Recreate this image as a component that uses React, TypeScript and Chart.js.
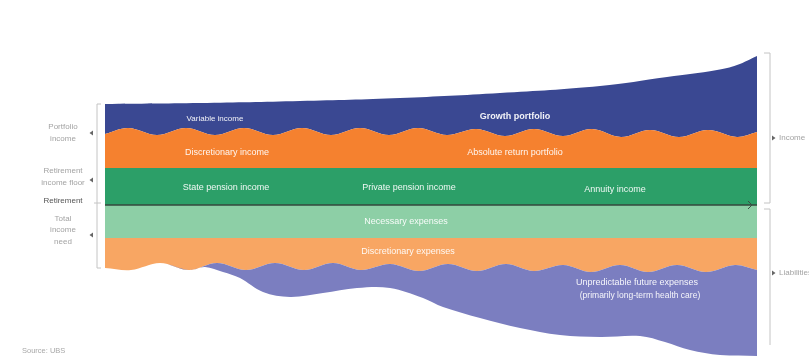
import { useEffect, useRef } from "react";
import { Chart, registerables } from "chart.js";

Chart.register(...registerables);

// x: time units along the plan (0 = start, 652 = end); y: level relative to retirement line (0)
const navyTopT = [0, 95, 195, 295, 395, 495, 562, 612, 632, 652];
const navyTopV = [101, 102, 104, 107, 112, 119, 128, 135, 140, 149];

const portfolioWaveT = [0, 23, 52, 81, 110, 139, 168, 197, 226, 255, 284, 313, 342, 371, 400, 429, 458, 487, 516, 545, 574, 603, 632, 652];
const portfolioWaveV = [71, 77, 70, 77, 70, 77, 70, 77, 70, 77, 70, 77, 70, 76, 69, 76, 69, 76, 68, 75, 68, 75, 68, 73];

const floorTopT = [0, 652];
const floorTopV = [37, 37];

const retirementT = [0, 652];
const retirementV = [0, 0];

const essentialBottomT = [0, 652];
const essentialBottomV = [-33, -33];

const expenseWaveT = [0, 26, 55, 84, 112, 141, 170, 199, 228, 256, 285, 314, 343, 372, 401, 429, 458, 486, 515, 543, 572, 601, 630, 652];
const expenseWaveV = [-63, -65, -58, -65, -58, -65, -58, -65, -58, -65, -59, -66, -59, -66, -59, -66, -60, -67, -60, -67, -60, -67, -60, -65];

const unpredictableBottomT = [0, 26, 55, 84, 100, 118, 135, 158, 185, 218, 252, 285, 318, 338, 375, 415, 455, 495, 535, 560, 585, 615, 652];
const unpredictableBottomV = [-63, -65, -58, -65, -62, -67, -73, -87, -92, -88, -83, -83, -93, -102, -113, -123, -130, -132, -131, -137, -145, -150, -151];

const bandLabels = [
  { text: "Variable income", t: 110, v: 86, size: 8, bold: false },
  { text: "Growth portfolio", t: 410, v: 88, size: 9, bold: true },
  { text: "Discretionary income", t: 122, v: 52, size: 9, bold: false },
  { text: "Absolute return portfolio", t: 410, v: 52, size: 9, bold: false },
  { text: "State pension income", t: 121, v: 17, size: 9, bold: false },
  { text: "Private pension income", t: 304, v: 17, size: 9, bold: false },
  { text: "Annuity income", t: 510, v: 15, size: 9, bold: false },
  { text: "Necessary expenses", t: 301, v: -17, size: 9, bold: false },
  { text: "Discretionary expenses", t: 303, v: -47, size: 9, bold: false },
  { text: "Unpredictable future expenses", t: 532, v: -78, size: 9, bold: false },
  { text: "(primarily long-term health care)", t: 535, v: -91, size: 8.5, bold: false },
];

const leftGroups = [
  { lines: ["Portfolio", "income"], v: 72, arrowV: 72 },
  { lines: ["Retirement", "income floor"], v: 28, arrowV: 25 },
  { lines: ["Total", "income", "need"], v: -25, arrowV: -30 },
];
const retirementLabel = "Retirement";
const rightLabels = [
  { text: "Income", v: 67 },
  { text: "Liabilities", v: -68 },
];
const sourceText = "Source: UBS";

const NAVY = "#3a4892";
const ORANGE = "#f5812f";
const GREEN = "#2c9f68";
const LIGHT_GREEN = "#8dcfa6";
const LIGHT_ORANGE = "#f8a663";
const PURPLE = "#7b7ec0";

const pts = (ts: number[], vs: number[]) => ts.map((x, i) => ({ x, y: vs[i] }));
const FONT = '"Liberation Sans", Arial, sans-serif';

function arrow(ctx: CanvasRenderingContext2D, x: number, y: number, dir: number, size = 3.5) {
  ctx.beginPath();
  ctx.moveTo(x + dir * size, y);
  ctx.lineTo(x, y - size * 0.7);
  ctx.lineTo(x, y + size * 0.7);
  ctx.closePath();
  ctx.fill();
}

const decorPlugin = {
  id: "decor",
  afterDatasetsDraw(chart: any) {
    const ctx: CanvasRenderingContext2D = chart.ctx;
    const xs = chart.scales.x;
    const ys = chart.scales.y;
    const area = chart.chartArea;
    ctx.save();
    // band labels
    ctx.textAlign = "center";
    ctx.textBaseline = "middle";
    ctx.fillStyle = "rgba(255,255,255,0.93)";
    for (const l of bandLabels) {
      ctx.font = `${l.bold ? "bold " : ""}${l.size}px ${FONT}`;
      ctx.fillText(l.text, xs.getPixelForValue(l.t), ys.getPixelForValue(l.v));
    }
    // retirement arrow at end of line
    ctx.strokeStyle = "#3b4d44";
    ctx.lineWidth = 1;
    const ry = ys.getPixelForValue(0);
    ctx.beginPath();
    ctx.moveTo(area.right - 9, ry - 4);
    ctx.lineTo(area.right - 5, ry);
    ctx.lineTo(area.right - 9, ry + 4);
    ctx.stroke();

    // left bracket
    const lx = area.left - 8;
    ctx.strokeStyle = "#c4c4c4";
    ctx.lineWidth = 1;
    ctx.beginPath();
    ctx.moveTo(lx + 4, ys.getPixelForValue(101));
    ctx.lineTo(lx, ys.getPixelForValue(101));
    ctx.lineTo(lx, ys.getPixelForValue(-63));
    ctx.lineTo(lx + 4, ys.getPixelForValue(-63));
    ctx.moveTo(lx - 3, ys.getPixelForValue(2));
    ctx.lineTo(lx + 4, ys.getPixelForValue(2));
    ctx.stroke();
    ctx.fillStyle = "#666";
    for (const g of leftGroups) arrow(ctx, lx - 4, ys.getPixelForValue(g.arrowV), -1);

    // left labels
    ctx.fillStyle = "#a3a3a3";
    ctx.font = `8px ${FONT}`;
    ctx.textAlign = "center";
    for (const g of leftGroups) {
      const lh = 11.5;
      const cy = ys.getPixelForValue(g.v);
      const y0 = cy - ((g.lines.length - 1) * lh) / 2;
      g.lines.forEach((s, i) => ctx.fillText(s, lx - 34, y0 + i * lh));
    }
    ctx.fillStyle = "#555";
    ctx.fillText(retirementLabel, lx - 34, ys.getPixelForValue(4));

    // right brackets
    const rx = area.right + 13;
    ctx.strokeStyle = "#c4c4c4";
    ctx.beginPath();
    ctx.moveTo(rx - 6, ys.getPixelForValue(152));
    ctx.lineTo(rx, ys.getPixelForValue(152));
    ctx.lineTo(rx, ys.getPixelForValue(2));
    ctx.lineTo(rx - 6, ys.getPixelForValue(2));
    ctx.moveTo(rx - 6, ys.getPixelForValue(-4));
    ctx.lineTo(rx, ys.getPixelForValue(-4));
    ctx.lineTo(rx, ys.getPixelForValue(-140));
    ctx.stroke();
    ctx.fillStyle = "#666";
    for (const r of rightLabels) arrow(ctx, rx + 2, ys.getPixelForValue(r.v), 1);
    ctx.fillStyle = "#a3a3a3";
    ctx.textAlign = "left";
    ctx.font = `8px ${FONT}`;
    for (const r of rightLabels) ctx.fillText(r.text, rx + 9, ys.getPixelForValue(r.v));

    // source
    ctx.fillStyle = "#a8a8a8";
    ctx.font = `7.5px ${FONT}`;
    ctx.fillText(sourceText, 22, ys.getPixelForValue(-146));
    ctx.restore();
  },
};

export default function App() {
  const ref = useRef<HTMLCanvasElement | null>(null);
  useEffect(() => {
    if (!ref.current) return;
    const base = {
      pointRadius: 0,
      pointHoverRadius: 0,
      borderWidth: 0,
      borderColor: "rgba(0,0,0,0)",
      tension: 0.35,
    };
    const chart = new Chart(ref.current, {
      type: "line",
      data: {
        datasets: [
          { ...base, label: "Unpredictable bottom", data: pts(unpredictableBottomT, unpredictableBottomV), fill: false },
          { ...base, label: "Unpredictable future expenses", data: pts(expenseWaveT, expenseWaveV), fill: "-1", backgroundColor: PURPLE },
          { ...base, label: "Discretionary expenses", data: pts(essentialBottomT, essentialBottomV), fill: "-1", backgroundColor: LIGHT_ORANGE, tension: 0 },
          { ...base, label: "Necessary expenses", data: pts(retirementT, retirementV), fill: "-1", backgroundColor: LIGHT_GREEN, tension: 0, borderWidth: 1.6, borderColor: "#34473d" },
          { ...base, label: "Income floor", data: pts(floorTopT, floorTopV), fill: "-1", backgroundColor: GREEN, tension: 0 },
          { ...base, label: "Absolute return portfolio", data: pts(portfolioWaveT, portfolioWaveV), fill: "-1", backgroundColor: ORANGE },
          { ...base, label: "Growth portfolio", data: pts(navyTopT, navyTopV), fill: "-1", backgroundColor: NAVY, tension: 0.4 },
        ],
      },
      options: {
        animation: false,
        responsive: false,
        layout: { padding: { left: 105, right: 52, top: 0, bottom: 0 } },
        plugins: { legend: { display: false }, tooltip: { enabled: false } },
        scales: {
          x: { type: "linear", min: 0, max: 652, display: false },
          y: { type: "linear", min: -151, max: 205, display: false },
        },
      },
      plugins: [decorPlugin],
    });
    return () => chart.destroy();
  }, []);
  return (
    <div style={{ position: "fixed", left: 0, top: 0, width: 809, height: 356, background: "#fff" }}>
      <canvas ref={ref} width={809} height={356} style={{ display: "block" }} />
    </div>
  );
}
